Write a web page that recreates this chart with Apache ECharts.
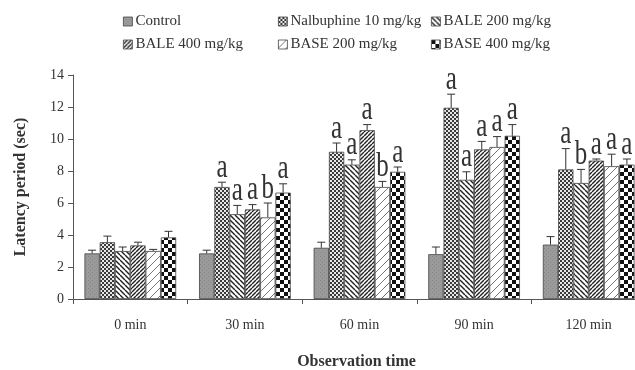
<!DOCTYPE html>
<html><head><meta charset="utf-8">
<script src="https://cdn.jsdelivr.net/npm/echarts@6/dist/echarts.min.js"></script>
<style>html,body{margin:0;padding:0;background:#fff}#c{width:635px;height:370px}</style>
</head><body><div id="c"></div>
<script>
const categories = ['0 min', '30 min', '60 min', '90 min', '120 min'];
const seriesNames = ['Control', 'Nalbuphine 10 mg/kg', 'BALE 200 mg/kg', 'BALE 400 mg/kg', 'BASE 200 mg/kg', 'BASE 400 mg/kg'];
const control    = [2.85, 2.85, 3.2, 2.8, 3.4];
const nalbuphine = [3.55, 7.0, 9.2, 11.95, 8.1];
const bale200    = [3.0, 5.3, 8.4, 7.45, 7.25];
const bale400    = [3.35, 5.6, 10.55, 9.35, 8.65];
const base200    = [3.0, 5.1, 7.0, 9.5, 8.3];
const base400    = [3.85, 6.65, 7.95, 10.2, 8.4];
const controlErr    = [0.2, 0.2, 0.35, 0.45, 0.5];
const nalbuphineErr = [0.38, 0.3, 0.55, 0.85, 1.3];
const bale200Err    = [0.25, 0.55, 0.3, 0.5, 0.85];
const bale400Err    = [0.2, 0.3, 0.35, 0.5, 0.1];
const base200Err    = [0.1, 0.9, 0.35, 0.65, 0.75];
const base400Err    = [0.38, 0.55, 0.3, 0.7, 0.35];
const controlSig    = ['', '', '', '', ''];
const nalbuphineSig = ['', 'a', 'a', 'a', 'a'];
const bale200Sig    = ['', 'a', 'a', 'a', 'b'];
const bale400Sig    = ['', 'a', 'a', 'a', 'a'];
const base200Sig    = ['', 'b', 'b', 'a', 'a'];
const base400Sig    = ['', 'a', 'a', 'a', 'a'];
const yTicks = [0, 2, 4, 6, 8, 10, 12, 14];

const values = [control, nalbuphine, bale200, bale400, base200, base400];
const errs = [controlErr, nalbuphineErr, bale200Err, bale400Err, base200Err, base400Err];
const sigs = [controlSig, nalbuphineSig, bale200Sig, bale400Sig, base200Sig, base400Sig];

function pat(size, draw) {
  const c = document.createElement('canvas');
  c.width = size; c.height = size;
  const g = c.getContext('2d');
  draw(g, size);
  return { image: c, repeat: 'repeat' };
}
function diag(g, s, dir, color, lw) {
  g.strokeStyle = color; g.lineWidth = lw;
  for (let o = -s; o <= s; o += s) {
    g.beginPath();
    if (dir > 0) { g.moveTo(o, s); g.lineTo(o + s, 0); }
    else { g.moveTo(o, 0); g.lineTo(o + s, s); }
    g.stroke();
  }
}
const fills = [
  pat(4, (g, s) => { g.fillStyle = '#9a9a9a'; g.fillRect(0, 0, s, s); g.fillStyle = '#8a8a8a'; g.fillRect(0, 0, 1, 1); g.fillRect(2, 2, 1, 1); }),
  pat(4, (g, s) => { g.fillStyle = '#e8e8e8'; g.fillRect(0, 0, s, s); g.fillStyle = '#3a3a3a'; g.fillRect(0, 0, 2, 2); g.fillRect(2, 2, 2, 2); }),
  pat(5, (g, s) => { g.fillStyle = '#fff'; g.fillRect(0, 0, s, s); diag(g, s, -1, '#222', 1.4); }),
  pat(4, (g, s) => { g.fillStyle = '#fff'; g.fillRect(0, 0, s, s); diag(g, s, 1, '#222', 1.4); }),
  pat(8, (g, s) => { g.fillStyle = '#fff'; g.fillRect(0, 0, s, s); diag(g, s, 1, '#777', 1.0); }),
  pat(8, (g, s) => { g.fillStyle = '#fff'; g.fillRect(0, 0, s, s); g.fillStyle = '#111'; g.fillRect(0, 0, 4, 4); g.fillRect(4, 4, 4, 4); })
];

const font = '"Liberation Serif", "Times New Roman", serif';
const series = seriesNames.map((name, i) => ({
  name, type: 'bar', data: values[i], barGap: '0%', barCategoryGap: '20%',
  itemStyle: { color: fills[i], borderColor: '#444', borderWidth: 0.8 },
  z: 2
}));

const errData = [];
for (let i = 0; i < 6; i++) for (let c = 0; c < 5; c++) errData.push([c, i, values[i][c], errs[i][c], sigs[i][c]]);
series.push({
  type: 'custom', name: 'err', data: errData, z: 5, silent: true,
  encode: { x: 0, y: 2 },
  renderItem: function (params, api) {
    const c = api.value(0), i = api.value(1), v = api.value(2), e = api.value(3);
    const sig = errData[params.dataIndex][4];
    const catW = api.size([1, 0])[0];
    const bw = catW * 0.8 / 6;
    const base = api.coord([c, v]);
    const x = base[0] - catW * 0.4 + bw * (i + 0.5);
    const yTop = api.coord([c, v + e])[1];
    const y0 = base[1];
    const st = { stroke: '#333', lineWidth: 1 };
    const children = [
      { type: 'line', shape: { x1: x, y1: y0, x2: x, y2: yTop }, style: st },
      { type: 'line', shape: { x1: x - 4, y1: yTop, x2: x + 4, y2: yTop }, style: st }
    ];
    if (sig) children.push({
      type: 'text', originX: x, originY: yTop, scaleY: 1.35,
      style: { text: sig, x: x, y: yTop + 2, align: 'center', verticalAlign: 'bottom', font: '25px ' + font, fill: '#333' }
    });
    return { type: 'group', children };
  }
});

const legends = [];
const lx = [123, 278, 431];
const ly = [14, 37];
seriesNames.forEach((n, i) => {
  legends.push({
    data: [n], left: lx[i % 3], top: ly[Math.floor(i / 3)], icon: 'rect', itemWidth: 9, itemHeight: 9, itemGap: 4,
    textStyle: { fontFamily: font, fontSize: 15, color: '#333', padding: [0, 0, 0, -2] }, padding: 0, selectedMode: false,
    itemStyle: { borderColor: '#444', borderWidth: 0.8 }
  });
});

const chart = echarts.init(document.getElementById('c'), null, { renderer: 'canvas' });
chart.setOption({
  animation: false,
  backgroundColor: '#fff',
  legend: legends,
  grid: { left: 73, top: 75, width: 573, bottom: 71, containLabel: false, outerBoundsMode: 'none' },
  xAxis: {
    type: 'category', data: categories,
    axisLine: { lineStyle: { color: '#555', width: 1 } },
    axisTick: { show: true, length: 5, lineStyle: { color: '#555' } },
    axisLabel: { fontFamily: font, fontSize: 14, color: '#333', margin: 19 },
    name: 'Observation time', nameLocation: 'middle', nameGap: 55,
    nameTextStyle: { fontFamily: font, fontSize: 16, fontWeight: 'bold', color: '#333', padding: [0, 6, 0, 0] }
  },
  yAxis: {
    type: 'value', min: 0, max: 14, interval: 2,
    axisLine: { show: true, lineStyle: { color: '#555', width: 1 } },
    axisTick: { show: true, length: 5, lineStyle: { color: '#555' } },
    axisLabel: { fontFamily: font, fontSize: 14, color: '#333', margin: 9, formatter: v => yTicks.includes(v) ? String(v) : '' },
    splitLine: { show: false },
    name: 'Latency period (sec)', nameLocation: 'middle', nameGap: 44,
    nameTextStyle: { fontFamily: font, fontSize: 16, fontWeight: 'bold', color: '#333' }
  },
  series
});
</script></body></html>
